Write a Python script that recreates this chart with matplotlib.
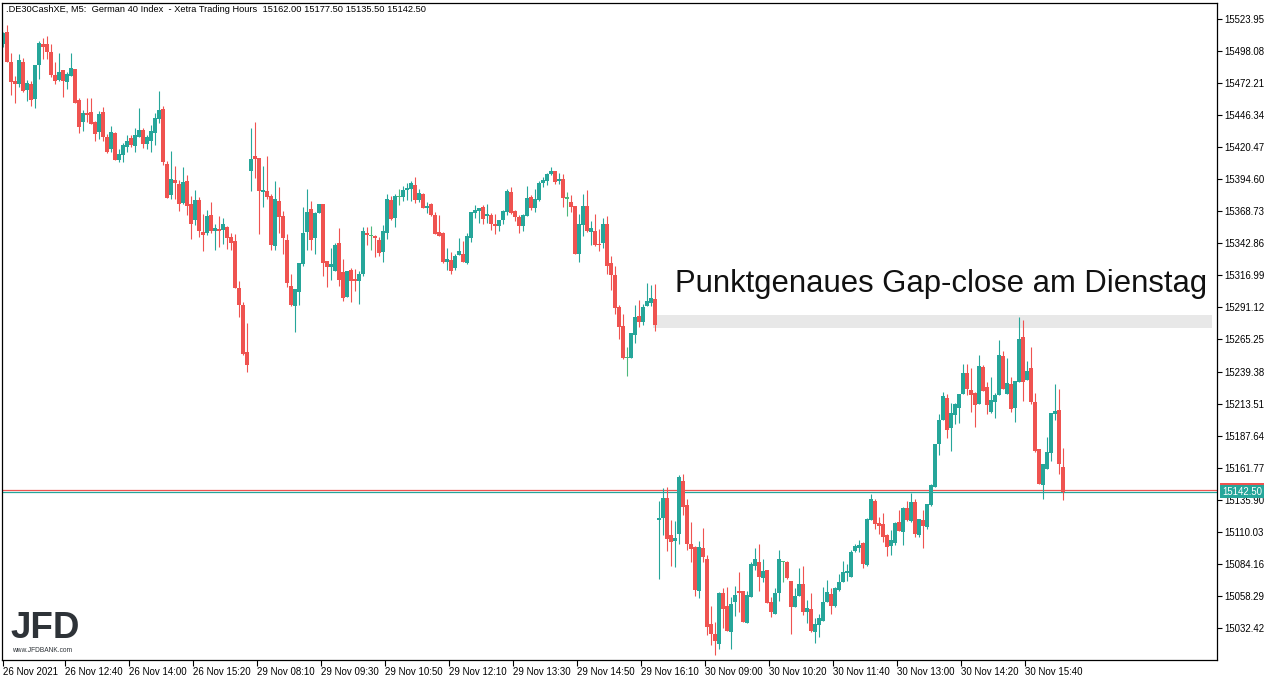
import numpy as np
import matplotlib
matplotlib.use('Agg')
import matplotlib.pyplot as plt

plt.rcParams['font.family'] = ['Liberation Sans', 'DejaVu Sans']

# M5 candles, 26 Nov 11:20 .. 30 Nov
opens = [
    15503.5, 15513.5, 15489.2, 15473.9, 15471.5, 15489.2, 15466.6, 15471.5, 15459.6, 15487.1,
    15503.8, 15503.8, 15497.3, 15478.7, 15474.7, 15482.5, 15473.4, 15478.2, 15483.6, 15458.6,
    15441.1, 15448.1, 15448.9, 15441.1, 15433.0, 15448.9, 15428.7, 15418.7, 15431.9, 15410.4,
    15414.4, 15420.6, 15427.9, 15421.7, 15429.0, 15434.4, 15423.3, 15425.7, 15432.2, 15443.0,
    15451.3, 15406.9, 15382.2, 15394.0, 15390.8, 15375.2, 15393.2, 15374.6, 15362.0, 15377.8,
    15352.0, 15351.5, 15365.7, 15352.8, 15354.4, 15353.9, 15356.1, 15348.0, 15344.8, 15306.8,
    15293.1, 15255.1, 15401.5, 15413.4, 15412.0, 15384.3, 15385.1, 15381.3, 15341.0, 15377.0,
    15365.2, 15345.6, 15308.7, 15292.3, 15303.9, 15326.0, 15352.3, 15370.6, 15347.4, 15367.6,
    15374.6, 15328.6, 15324.0, 15320.8, 15342.9, 15319.7, 15299.6, 15321.3, 15314.1, 15312.7,
    15318.1, 15351.2, 15348.5, 15348.8, 15345.6, 15335.9, 15351.5, 15377.9, 15363.3, 15380.0,
    15380.5, 15386.2, 15386.7, 15390.0, 15377.9, 15382.7, 15371.7, 15374.6, 15365.7, 15352.0,
    15351.2, 15327.8, 15329.4, 15323.0, 15333.5, 15334.3, 15327.0, 15347.2, 15367.4, 15369.0,
    15372.2, 15364.9, 15365.7, 15358.5, 15356.9, 15361.7, 15368.2, 15384.3, 15369.0, 15364.1,
    15356.9, 15364.9, 15380.3, 15371.4, 15377.9, 15391.6, 15393.2, 15398.8, 15401.3, 15393.2,
    15394.8, 15379.0, 15376.2, 15373.0, 15334.3, 15357.7, 15373.0, 15352.0, 15352.8, 15342.3,
    15343.1, 15358.5, 15327.0, 15317.3, 15291.5, 15276.1, 15250.0, 15250.3, 15268.9, 15284.2,
    15279.4, 15292.3, 15294.7, 15297.9, 15119.8, 15121.2, 15137.3, 15107.4, 15102.9, 15108.2,
    15151.0, 15131.6, 15100.2, 15097.7, 15062.2, 15096.9, 15088.1, 15035.6, 15027.5, 15019.4,
    15060.6, 15050.1, 15029.1, 15053.4, 15062.2, 15062.2, 15036.4, 15057.4, 15082.4, 15085.6,
    15072.7, 15079.2, 15053.4, 15043.7, 15060.6, 15085.6, 15085.6, 15070.3, 15049.3, 15058.2,
    15067.9, 15045.3, 15047.7, 15029.1, 15034.8, 15038.0, 15053.4, 15059.8, 15050.1, 15063.0,
    15069.5, 15076.8, 15073.5, 15094.5, 15096.9, 15101.0, 15083.2, 15119.5, 15134.9, 15117.1,
    15116.3, 15107.4, 15098.6, 15101.0, 15117.9, 15109.9, 15129.2, 15118.7, 15134.1, 15107.4,
    15119.5, 15113.9, 15131.6, 15146.4, 15180.9, 15200.3, 15218.0, 15193.8, 15204.3, 15210.0,
    15221.3, 15238.2, 15224.5, 15222.1, 15213.2, 15243.1, 15226.9, 15206.7, 15214.8, 15220.5,
    15251.9, 15221.3, 15229.3, 15210.0, 15231.2, 15267.3, 15232.6, 15242.2, 15214.8, 15176.9,
    15147.8, 15160.7, 15173.6, 15205.1, 15208.3, 15162.0,
]
highs = [
    15513.5, 15519.1, 15496.5, 15477.9, 15496.0, 15492.7, 15474.7, 15473.6, 15486.8, 15506.5,
    15508.9, 15510.5, 15504.0, 15489.5, 15496.5, 15482.8, 15481.4, 15496.5, 15483.6, 15460.2,
    15450.8, 15460.2, 15460.2, 15441.9, 15450.0, 15452.9, 15431.4, 15437.6, 15432.7, 15419.0,
    15423.9, 15430.3, 15430.3, 15436.0, 15452.1, 15436.0, 15430.3, 15438.4, 15448.1, 15466.1,
    15453.7, 15409.6, 15417.4, 15405.3, 15394.3, 15404.5, 15398.3, 15381.1, 15385.9, 15380.3,
    15366.8, 15369.8, 15376.2, 15358.7, 15364.9, 15363.6, 15357.1, 15350.9, 15350.4, 15312.7,
    15295.8, 15278.8, 15436.2, 15441.1, 15412.0, 15405.6, 15413.6, 15382.4, 15393.2, 15388.3,
    15369.2, 15350.7, 15318.1, 15306.0, 15327.0, 15372.2, 15386.7, 15377.0, 15368.2, 15374.6,
    15374.6, 15328.6, 15338.8, 15343.1, 15355.3, 15330.2, 15320.5, 15323.0, 15322.2, 15320.5,
    15355.8, 15356.1, 15356.9, 15349.9, 15347.7, 15357.7, 15382.7, 15381.1, 15382.7, 15386.7,
    15389.2, 15391.6, 15393.2, 15396.4, 15386.7, 15383.5, 15376.2, 15375.4, 15368.2, 15365.7,
    15352.0, 15339.1, 15335.9, 15334.3, 15347.2, 15344.8, 15351.2, 15368.2, 15373.8, 15371.4,
    15373.8, 15374.6, 15367.4, 15366.6, 15361.7, 15369.8, 15386.7, 15388.3, 15369.8, 15365.7,
    15366.6, 15389.2, 15381.9, 15386.7, 15393.2, 15396.4, 15399.6, 15404.5, 15401.3, 15399.6,
    15398.8, 15384.3, 15381.9, 15373.0, 15366.6, 15382.7, 15385.9, 15360.9, 15366.6, 15354.4,
    15363.3, 15364.9, 15332.7, 15324.6, 15293.1, 15285.8, 15259.2, 15270.5, 15293.1, 15297.1,
    15293.9, 15310.9, 15309.2, 15310.0, 15134.9, 15145.4, 15146.2, 15119.5, 15118.7, 15155.9,
    15156.7, 15136.5, 15117.9, 15098.6, 15102.6, 15113.1, 15091.3, 15050.1, 15037.2, 15061.4,
    15064.6, 15065.5, 15057.4, 15066.3, 15077.6, 15062.2, 15062.2, 15085.6, 15096.9, 15100.2,
    15088.1, 15079.2, 15057.4, 15064.6, 15095.3, 15086.7, 15086.4, 15070.3, 15064.6, 15080.8,
    15082.4, 15055.0, 15060.6, 15040.4, 15043.7, 15065.5, 15071.1, 15064.6, 15065.5, 15076.0,
    15086.4, 15084.0, 15095.3, 15100.2, 15103.4, 15101.8, 15121.2, 15140.5, 15136.5, 15122.0,
    15125.2, 15108.2, 15111.5, 15117.9, 15127.6, 15130.0, 15134.9, 15141.3, 15136.5, 15120.3,
    15127.6, 15132.5, 15148.6, 15180.9, 15205.1, 15222.9, 15221.3, 15214.0, 15214.0, 15221.3,
    15245.5, 15245.5, 15242.2, 15222.9, 15252.7, 15244.7, 15230.9, 15235.0, 15222.1, 15264.8,
    15256.0, 15250.3, 15235.0, 15231.8, 15283.4, 15281.0, 15247.9, 15259.2, 15222.1, 15176.9,
    15164.8, 15186.5, 15205.9, 15229.3, 15225.3, 15177.5,
]
lows = [
    15501.0, 15489.5, 15462.9, 15456.4, 15469.3, 15465.0, 15458.0, 15454.0, 15452.4, 15475.8,
    15491.9, 15491.9, 15477.4, 15471.8, 15473.9, 15461.3, 15467.7, 15478.2, 15456.4, 15432.2,
    15433.8, 15441.1, 15439.5, 15425.7, 15427.4, 15425.7, 15416.1, 15416.6, 15410.4, 15408.8,
    15408.8, 15416.9, 15420.4, 15416.9, 15429.0, 15419.6, 15419.0, 15416.9, 15422.2, 15440.3,
    15406.1, 15379.7, 15378.9, 15378.9, 15369.2, 15374.9, 15366.0, 15346.6, 15357.9, 15347.7,
    15336.9, 15349.6, 15351.5, 15337.8, 15340.2, 15342.6, 15338.3, 15337.5, 15307.1, 15283.7,
    15252.7, 15239.3, 15385.4, 15395.9, 15350.7, 15372.2, 15378.9, 15337.8, 15337.8, 15350.9,
    15334.5, 15307.9, 15292.3, 15271.6, 15293.4, 15324.8, 15337.5, 15337.5, 15334.3, 15367.6,
    15316.8, 15307.9, 15313.3, 15320.8, 15308.4, 15296.3, 15299.6, 15295.5, 15304.4, 15293.9,
    15316.8, 15341.5, 15337.5, 15331.8, 15332.7, 15327.5, 15346.4, 15361.4, 15356.1, 15373.8,
    15377.0, 15377.9, 15377.0, 15375.4, 15376.2, 15371.4, 15367.1, 15364.9, 15350.4, 15348.8,
    15327.0, 15321.3, 15318.1, 15321.3, 15333.5, 15327.8, 15326.2, 15344.0, 15363.3, 15359.3,
    15358.5, 15359.3, 15353.6, 15350.4, 15352.8, 15358.5, 15365.7, 15366.6, 15360.9, 15351.2,
    15352.8, 15364.9, 15369.8, 15368.2, 15377.0, 15388.3, 15390.0, 15398.0, 15390.8, 15390.8,
    15372.2, 15364.9, 15368.2, 15334.3, 15327.8, 15348.8, 15352.0, 15341.5, 15340.7, 15336.7,
    15339.1, 15318.1, 15305.2, 15285.8, 15265.6, 15249.5, 15235.8, 15250.3, 15262.4, 15275.3,
    15277.0, 15292.3, 15292.3, 15272.1, 15072.2, 15107.4, 15094.5, 15082.4, 15081.6, 15100.2,
    15123.6, 15095.3, 15085.6, 15058.2, 15056.6, 15085.6, 15026.7, 15018.6, 15010.6, 15015.4,
    15032.4, 15029.9, 15015.4, 15042.1, 15045.3, 15037.2, 15036.4, 15057.4, 15079.2, 15062.2,
    15069.5, 15052.5, 15041.2, 15043.7, 15054.2, 15069.5, 15071.9, 15027.5, 15049.3, 15058.2,
    15042.9, 15036.4, 15029.1, 15020.3, 15025.1, 15038.0, 15053.4, 15043.7, 15049.3, 15062.2,
    15069.5, 15070.3, 15073.5, 15093.7, 15093.7, 15080.8, 15082.4, 15119.5, 15112.3, 15108.2,
    15101.8, 15090.5, 15091.3, 15099.4, 15110.7, 15099.4, 15118.7, 15117.9, 15105.8, 15105.8,
    15096.9, 15112.3, 15130.8, 15146.4, 15172.0, 15200.3, 15185.7, 15175.2, 15197.0, 15197.8,
    15221.3, 15220.5, 15206.7, 15194.6, 15213.2, 15223.7, 15205.1, 15205.9, 15201.9, 15220.5,
    15225.3, 15221.3, 15206.7, 15198.7, 15231.2, 15215.6, 15232.6, 15213.2, 15174.4, 15148.6,
    15136.5, 15160.7, 15167.2, 15200.3, 15156.7, 15135.5,
]
closes = [
    15512.4, 15489.5, 15473.4, 15471.2, 15490.9, 15465.8, 15472.3, 15458.8, 15486.8, 15504.6,
    15501.6, 15497.6, 15479.0, 15474.2, 15481.2, 15474.2, 15479.6, 15484.4, 15456.4, 15437.0,
    15448.1, 15446.7, 15439.5, 15431.4, 15447.3, 15429.0, 15416.6, 15432.7, 15410.4, 15415.0,
    15422.2, 15425.5, 15422.2, 15430.3, 15434.4, 15423.3, 15428.7, 15433.5, 15444.0, 15450.5,
    15408.8, 15379.7, 15394.8, 15391.8, 15374.9, 15392.4, 15373.0, 15358.7, 15377.8, 15353.1,
    15349.9, 15364.9, 15352.6, 15355.2, 15352.8, 15358.5, 15347.2, 15343.4, 15307.1, 15293.4,
    15253.5, 15244.7, 15410.9, 15411.2, 15385.1, 15385.9, 15380.5, 15341.5, 15378.7, 15364.4,
    15347.4, 15311.1, 15293.1, 15306.0, 15327.0, 15351.2, 15368.2, 15345.8, 15367.6, 15374.6,
    15327.3, 15324.0, 15326.2, 15341.5, 15313.3, 15299.0, 15320.5, 15312.7, 15312.7, 15318.1,
    15352.8, 15349.6, 15348.5, 15346.9, 15335.1, 15352.8, 15378.7, 15362.2, 15381.1, 15380.0,
    15385.9, 15387.5, 15391.6, 15377.9, 15383.5, 15371.4, 15372.2, 15365.7, 15350.4, 15348.8,
    15327.8, 15330.2, 15320.5, 15332.7, 15336.7, 15327.8, 15348.8, 15368.2, 15369.5, 15371.4,
    15362.5, 15366.6, 15358.5, 15356.9, 15361.7, 15369.0, 15385.1, 15367.4, 15364.1, 15356.9,
    15365.7, 15379.5, 15371.4, 15378.7, 15391.6, 15394.0, 15398.8, 15401.3, 15392.4, 15394.8,
    15379.5, 15379.0, 15372.2, 15334.3, 15358.5, 15373.0, 15352.8, 15355.3, 15341.5, 15341.5,
    15358.5, 15324.6, 15317.3, 15290.7, 15275.3, 15250.3, 15250.0, 15270.5, 15283.4, 15279.4,
    15291.5, 15296.3, 15298.7, 15277.0, 15121.2, 15137.3, 15104.2, 15102.1, 15105.0, 15154.2,
    15130.0, 15100.2, 15096.1, 15063.0, 15097.7, 15089.7, 15033.2, 15027.5, 15021.9, 15060.6,
    15047.7, 15029.9, 15051.7, 15059.0, 15060.6, 15037.2, 15059.0, 15084.0, 15088.1, 15073.5,
    15078.4, 15052.5, 15045.3, 15060.6, 15088.1, 15085.6, 15072.7, 15049.3, 15058.2, 15067.9,
    15045.3, 15048.5, 15029.9, 15035.6, 15040.4, 15053.4, 15061.4, 15050.1, 15064.6, 15069.5,
    15077.6, 15078.4, 15093.7, 15098.6, 15099.4, 15084.0, 15120.3, 15136.5, 15116.3, 15114.7,
    15105.8, 15097.7, 15103.4, 15117.1, 15110.7, 15129.2, 15119.5, 15134.1, 15108.2, 15120.3,
    15114.7, 15132.5, 15147.8, 15180.9, 15200.3, 15219.6, 15192.2, 15205.9, 15213.2, 15221.3,
    15238.2, 15225.3, 15220.5, 15212.4, 15243.9, 15223.7, 15212.4, 15216.4, 15220.5, 15252.7,
    15225.3, 15230.1, 15209.1, 15231.8, 15265.7, 15231.2, 15239.8, 15214.8, 15175.2, 15148.6,
    15164.8, 15174.4, 15205.9, 15207.5, 15164.8, 15142.5,
]

bid = 15142.5
ask = 15144.0
gap_low = 15274.5
gap_high = 15285.0
gap_start = 163  # last bar of 29 Nov

y_ticks = [15523.95, 15498.08, 15472.21, 15446.34, 15420.47, 15394.60, 15368.73,
           15342.86, 15316.99, 15291.12, 15265.25, 15239.38, 15213.51, 15187.64,
           15161.77, 15135.90, 15110.03, 15084.16, 15058.29, 15032.42]
x_labels = ['26 Nov 2021', '26 Nov 12:40', '26 Nov 14:00', '26 Nov 15:20', '29 Nov 08:10',
            '29 Nov 09:30', '29 Nov 10:50', '29 Nov 12:10', '29 Nov 13:30', '29 Nov 14:50',
            '29 Nov 16:10', '30 Nov 09:00', '30 Nov 10:20', '30 Nov 11:40', '30 Nov 13:00',
            '30 Nov 14:20', '30 Nov 15:40']

header = ('.DE30CashXE, M5:  German 40 Index  - Xetra Trading Hours  '
          '15162.00 15177.50 15135.50 15142.50')

UP = '#26A69A'
DOWN = '#EF5350'
DOJI = '#4DB87C'

o = np.array(opens)
h = np.array(highs)
l = np.array(lows)
c = np.array(closes)
x = np.arange(len(o))
cols = np.where(c > o, UP, np.where(c < o, DOWN, DOJI))

fig = plt.figure(figsize=(12.76, 6.81), dpi=100)
ax = fig.add_axes([2 / 1276, 21 / 681, 1215 / 1276, 657 / 681])

# gap zone
ax.fill_between([gap_start - 0.5, 302.2], gap_low, gap_high, color='#E8E8E8', lw=0, zorder=1)

# bid / ask lines
ax.axhline(ask, color=DOWN, lw=0.9, zorder=1.5)
ax.axhline(bid, color=UP, lw=0.9, zorder=1.5)

# candles
ax.vlines(x, l, h, colors=cols, lw=0.8, zorder=2)
body = np.maximum(np.abs(c - o), 1.0)
ax.bar(x, body, bottom=np.minimum(o, c), width=0.77, color=cols, lw=0, zorder=2.1,
       antialiased=False)

ax.set_xlim(-0.25, 303.5)
ax.set_ylim(15006.5, 15536.9)

ax.yaxis.tick_right()
ax.set_yticks(y_ticks)
ax.set_yticklabels(['%.2f' % v for v in y_ticks])
ax.tick_params(axis='y', direction='out', length=3.5, width=0.8, pad=1.5, labelsize=6.9)

tick_pos = [0] + [15.5 + 16 * k for k in range(len(x_labels) - 1)]
ax.set_xticks(tick_pos)
ax.set_xticklabels(x_labels)
ax.tick_params(axis='x', direction='out', length=4, width=0.8, pad=1.0, labelsize=7.0)
for t in ax.get_xticklabels():
    t.set_ha('left')
for s in ax.spines.values():
    s.set_linewidth(0.9)
    s.set_color('black')

# price tags on the right scale
for price, col, txt in [(ask, DOWN, DOWN), (bid, UP, 'white')]:
    ax.annotate('%.2f' % bid, xy=(1, price), xycoords=('axes fraction', 'data'),
                xytext=(5, 0), textcoords='offset pixels', ha='left', va='center',
                fontsize=6.9, color=txt, annotation_clip=False, zorder=5,
                bbox=dict(boxstyle='square,pad=0.2', fc=col, ec='none'))

ax.text(168, 15303.6, 'Punktgenaues Gap-close am Dienstag', fontsize=22.3,
        color='#111111', ha='left', va='baseline', zorder=4)

fig.text(6 / 1276, 1 - 10 / 681, header, fontsize=6.7, ha='left', va='center')

# logo
fig.text(10 / 1276, 1 - 638 / 681, 'JFD', fontsize=26.5, fontweight='bold',
         color='#2E3338', ha='left', va='baseline')
fig.text(12 / 1276, 1 - 650 / 681, 'www.JFDBANK.com', fontsize=4.8,
         color='#2E3338', ha='left', va='center')

fig.savefig('out.png', dpi=100, facecolor='white')
